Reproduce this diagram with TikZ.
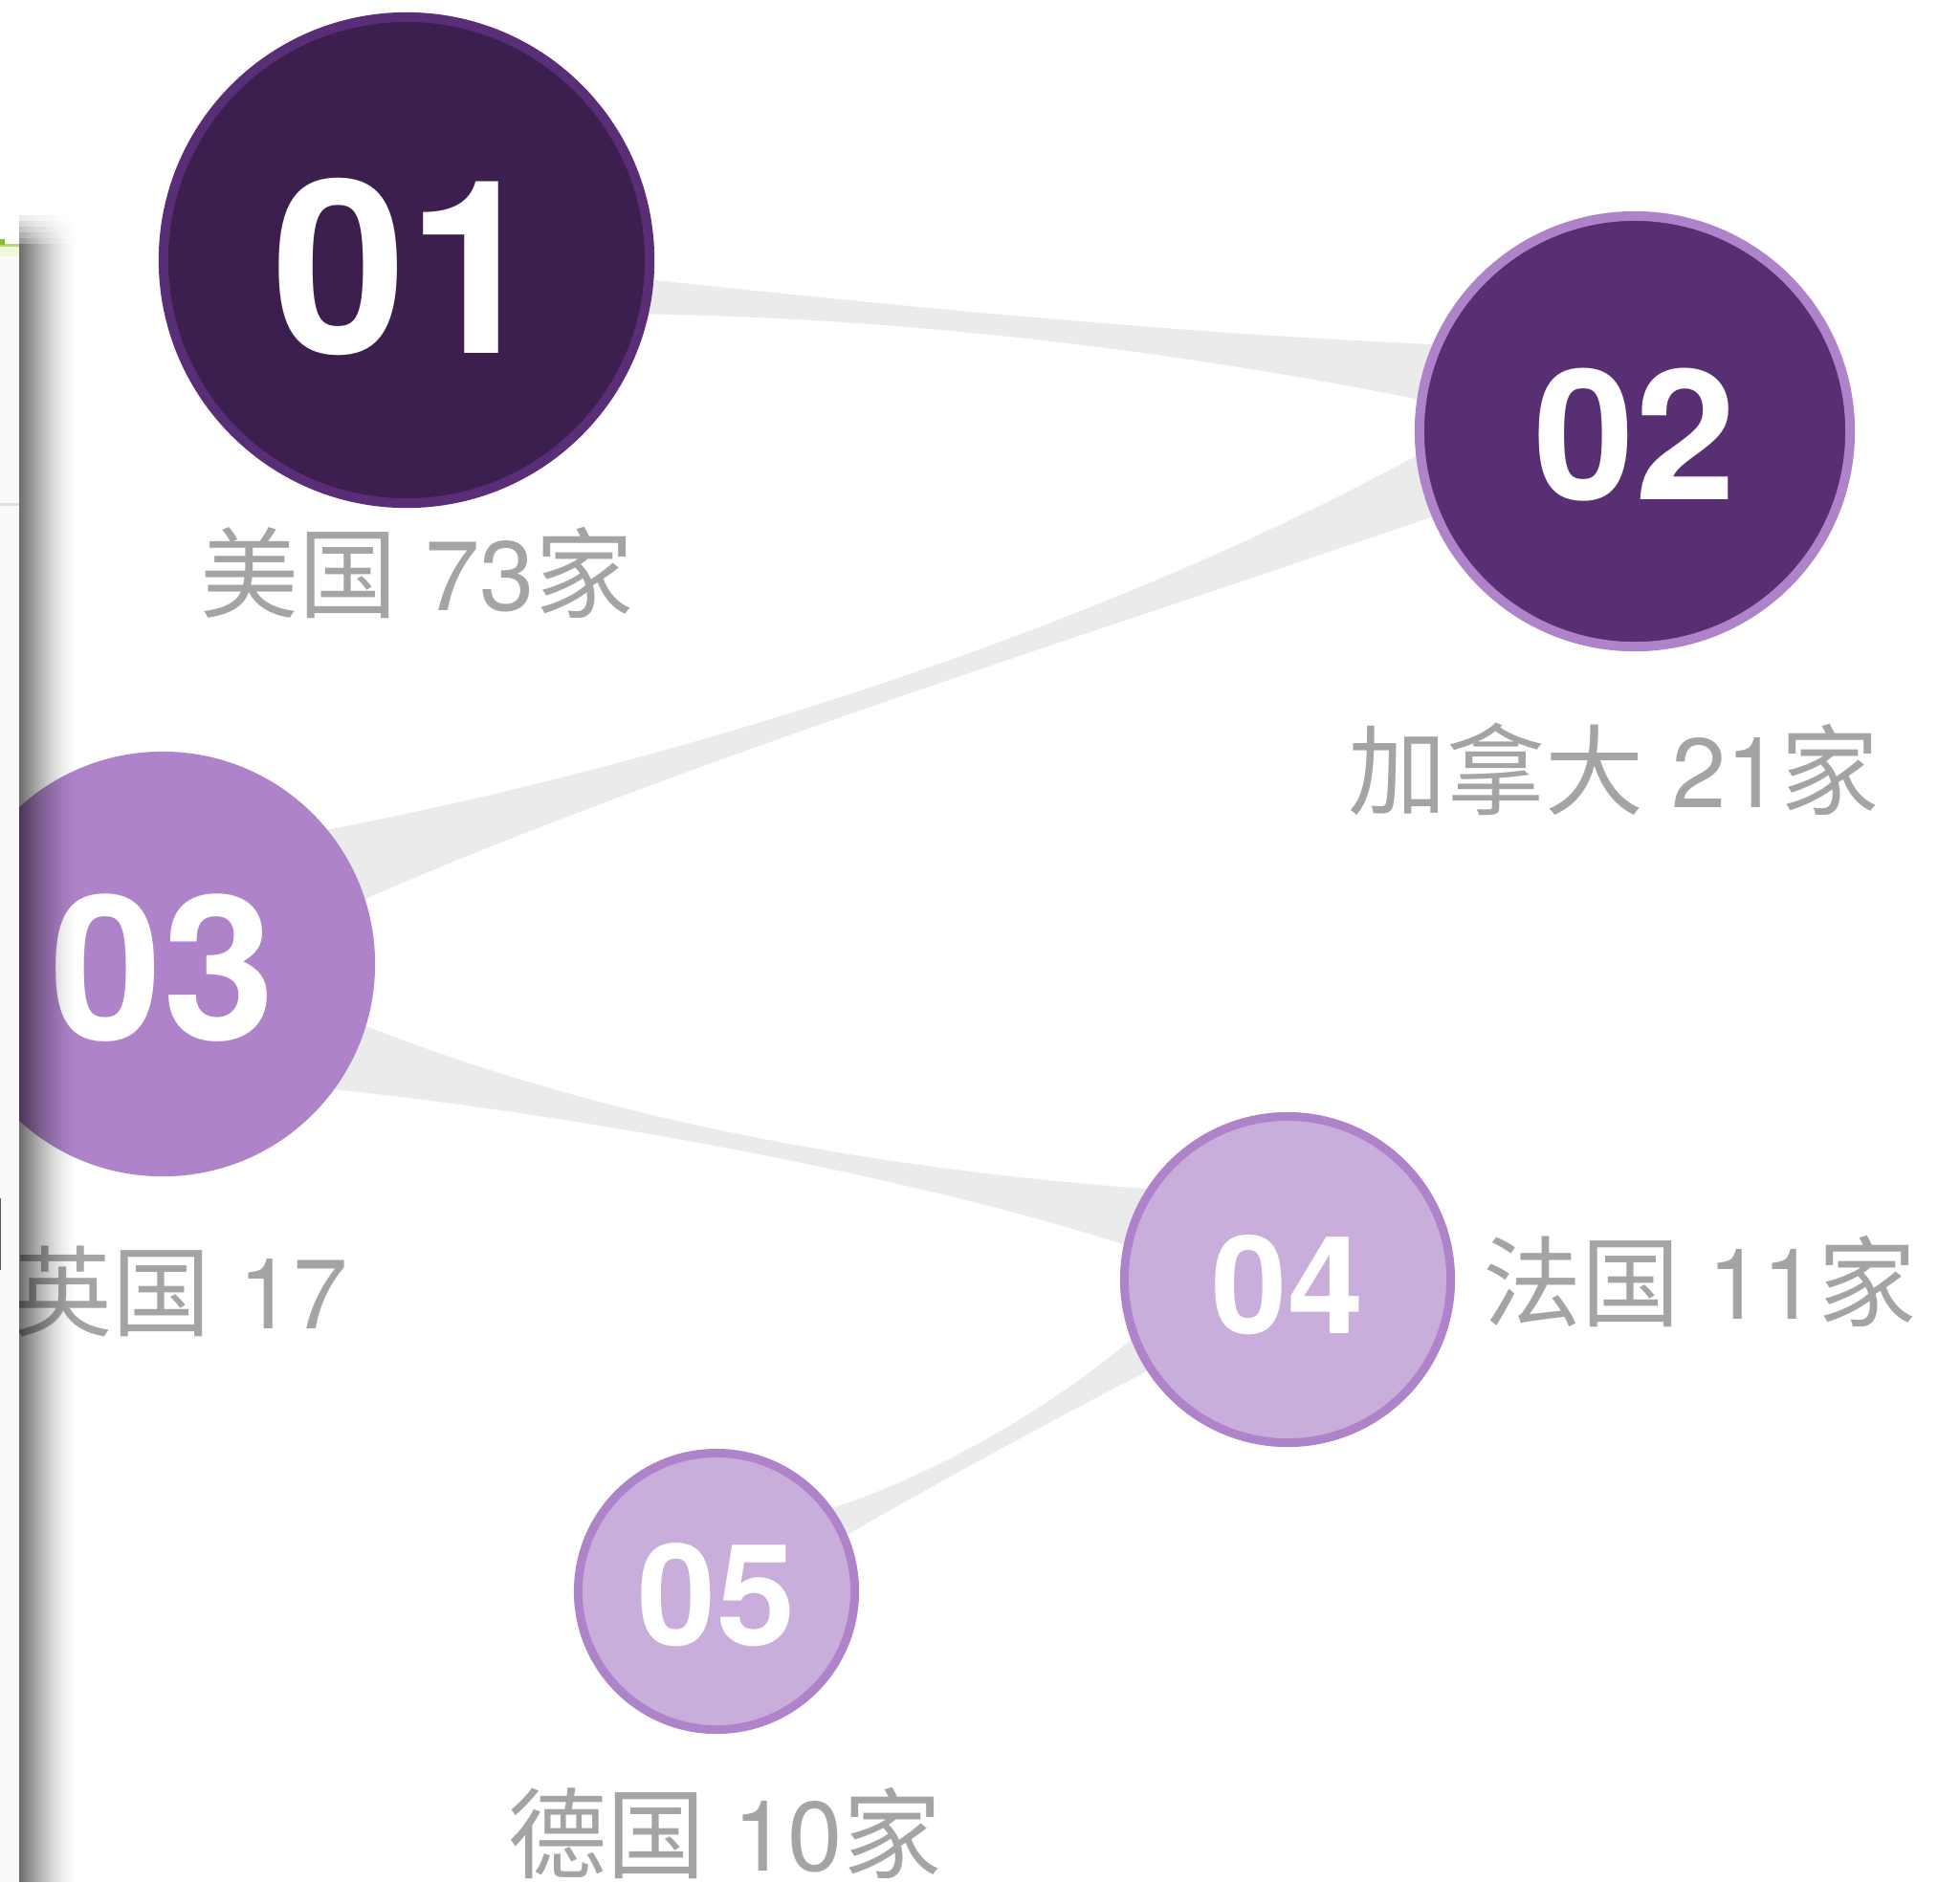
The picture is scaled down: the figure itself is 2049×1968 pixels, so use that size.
\documentclass[tikz,border=0pt]{standalone}
\usepackage{fontspec}
\setmainfont{TeX Gyre Heros}
\newfontfamily\cjk{Noto Sans CJK SC}
\usetikzlibrary{backgrounds}
\definecolor{bandgray}{HTML}{EBEBEB}
\definecolor{oneFill}{HTML}{3C1F4E}
\definecolor{oneLine}{HTML}{5A2E77}
\definecolor{twoFill}{HTML}{582F72}
\definecolor{lilac}{HTML}{AE83CA}
\definecolor{paleLilac}{HTML}{C9ADDB}
\definecolor{lblgray}{HTML}{A4A4A4}
\definecolor{greenA}{HTML}{8CBA2C}
\definecolor{greenB}{HTML}{B9D873}
\definecolor{greenC}{HTML}{F1F8DC}
\begin{document}
\begin{tikzpicture}[x=0.01cm,y=-0.01cm,
  ball/.style={circle, inner sep=0pt},
  numtxt/.style={inner sep=0pt, text=white},
  lbl/.style={inner sep=0pt, text=lblgray, font=\fontsize{29.3}{32}\selectfont},
  band/.style={fill=bandgray, draw=none}]
\useasboundingbox (0,0) rectangle (2049,1968);

% circles (nodes)
\node[ball, fill=oneFill, draw=oneLine, line width=1mm, minimum size=5.08cm] (n1) at (425,272) {};
\node[ball, fill=twoFill, draw=lilac, line width=1mm, minimum size=4.5cm] (n2) at (1709,451) {};
\node[ball, fill=lilac, minimum size=4.44cm] (n3) at (170,1008) {};
\node[ball, fill=paleLilac, draw=lilac, line width=0.9mm, minimum size=3.41cm] (n4) at (1346,1338) {};
\node[ball, fill=paleLilac, draw=lilac, line width=0.9mm, minimum size=2.89cm] (n5) at (749,1664) {};

% numbers
\node[numtxt, font=\fontsize{72}{72}\selectfont\bfseries] (d1) at ([shift={(0,7)}]n1.center) {01};
\node[numtxt, font=\fontsize{54}{54}\selectfont\bfseries] (d2) at ([shift={(0,4)}]n2.center) {02};
\node[numtxt, font=\fontsize{60}{60}\selectfont\bfseries] (d3) at ([shift={(0,4)}]n3.center) {03};
\node[numtxt, font=\fontsize{40.5}{40.5}\selectfont\bfseries] (d4) at ([shift={(0,6)}]n4.center) {04};
\node[numtxt, font=\fontsize{42}{42}\selectfont\bfseries] (d5) at ([shift={(0,4)}]n5.center) {05};

% tapered connectors behind the circles
\begin{scope}[on background layer]
\fill[white] (0,0) rectangle (2049,1968);
% 01 -> 02
\fill[band] ([shift={(215,16)}]n1.center) .. controls (950,322) and (1250,350) .. ([shift={(-189,-90)}]n2.center)
  -- ([shift={(-209,-30)}]n2.center) .. controls (1250,370) and (950,330) .. ([shift={(215,56)}]n1.center) -- cycle;
% 03 -> 02
\fill[band] ([shift={(160,-138)}]n3.center) .. controls (700,800) and (1150,660) .. ([shift={(-209,15)}]n2.center)
  -- ([shift={(-199,85)}]n2.center) .. controls (1150,660) and (700,800) .. ([shift={(200,-63)}]n3.center) -- cycle;
% 03 -> 04
\fill[band] ([shift={(200,60)}]n3.center) .. controls (650,1180) and (950,1225) .. ([shift={(-136,-94)}]n4.center)
  -- ([shift={(-156,-32)}]n4.center) .. controls (950,1228) and (600,1165) .. ([shift={(170,130)}]n3.center) -- cycle;
% 04 -> 05
\fill[band] ([shift={(-151,52)}]n4.center) .. controls (1095,1478) and (960,1550) .. ([shift={(111,-84)}]n5.center)
  -- ([shift={(131,-56)}]n5.center) .. controls (980,1550) and (1100,1485) .. ([shift={(-136,90)}]n4.center) -- cycle;
\end{scope}

% labels
\node[lbl] (t1) at (436,599) {{\cjk 美国} 73{\cjk 家}};
\node[lbl] (t2) at (1687,804) {{\cjk 加拿大} 21{\cjk 家}};
\node[lbl] (t3) at (189,1350) {{\cjk 英国} 17};
\node[lbl] (t4) at (1777,1340) {{\cjk 法国} 11{\cjk 家}};
\node[lbl] (t5) at (758,1917) {{\cjk 德国} 10{\cjk 家}};

% left panel edge
\fill[white!98!black] (0,250) rectangle (20,1968);
\fill[greenC] (0,258) rectangle (20,268);
\fill[greenB] (0,255) rectangle (20,258);
\fill[greenA] (0,250) rectangle (5,256);
\fill[black!12] (0,526) rectangle (20,529);
\fill[black!65] (0,1253) rectangle (1.5,1328);

% panel shadow
\foreach \i [evaluate=\i as \op using {0.57*(1-\i/30)*sqrt(1-\i/30)}] in {0,...,29}{
  \fill[black, opacity=\op] ({20+2*\i},255) rectangle ({22+2*\i},1968);
  \foreach \j in {1,...,5}
    \fill[black, opacity={\op*(6-\j)/7}] ({20+2*\i},{255-6*\j}) rectangle ({22+2*\i},{261-6*\j});
}
\end{tikzpicture}
\end{document}
